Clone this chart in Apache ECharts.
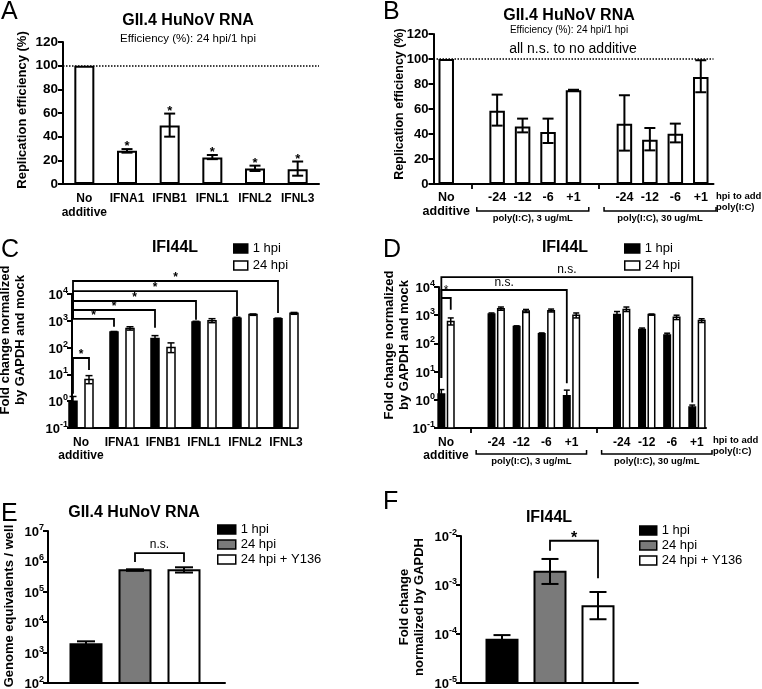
<!DOCTYPE html>
<html>
<head>
<meta charset="utf-8">
<script src="https://cdn.jsdelivr.net/npm/echarts@6/dist/echarts.min.js"></script>
<style>
    html, body { margin: 0; padding: 0; background: #fff; }
    #chart { width: 762px; height: 689px; }
</style>
</head>
<body>
<div id="chart"></div>
<script>
// ---------- data ----------
// A: replication efficiency, IFN treatments
let aCategories = ['No\nadditive', 'IFNA1', 'IFNB1', 'IFNL1', 'IFNL2', 'IFNL3'];
let aValues = [100, 28, 49.5, 22.5, 13, 12.5];
let aErrLow = [null, 26.5, 40, 21, 11, 7];
let aErrHigh = [null, 29.5, 59.5, 24.5, 15.5, 19];
let aStars = [0, 1, 1, 1, 1, 1];

// B: replication efficiency, poly(I:C)
let bCategories = ['No\nadditive', '', '-24', '-12', '-6', '+1', '', '-24', '-12', '-6', '+1'];
let bValues = [100, null, 58.6, 46.1, 41.6, 75, null, 48.3, 35.5, 40.3, 85.6];
let bErrLow = [null, null, 46.7, 41.3, 32.8, 74.6, null, 26.7, 26.9, 33.3, 73.4];
let bErrHigh = [null, null, 71.5, 52.3, 52.3, 75.4, null, 71, 44.8, 48.3, 99];
let bGroups = [[2, 5], [7, 10]];
let bGroupNames = ['poly(I:C), 3 ug/mL', 'poly(I:C), 30 ug/mL'];

// C: IFI44L, IFN treatments
let cCategories = ['No\nadditive', 'IFNA1', 'IFNB1', 'IFNL1', 'IFNL2', 'IFNL3'];
let c1Values = [1.0, 380, 220, 900, 1250, 1200];
let c1ErrLow = [0.7, 360, 170, 850, 1150, 1150];
let c1ErrHigh = [1.5, 400, 280, 960, 1350, 1260];
let c24Values = [6.5, 520, 100, 1000, 1700, 1900];
let c24ErrLow = [4.5, 450, 65, 850, 1600, 1750];
let c24ErrHigh = [9, 600, 150, 1200, 1800, 2050];
// [cat1, side1, cat2, side2, level, leg1 end, leg2 end]
let cBrackets = [
    [0, -1, 5, -1, 30500, 1180, 1950],
    [0, -1, 4, -1, 12900, 1180, 1510],
    [0, -1, 3, -1, 5480, 1180, 1090],
    [0, -1, 2, -1, 2530, 1180, 550],
    [0, -1, 1, -1, 1180, 1180, 600],
    [0, -1, 0, 1, 41, 1.9, 14.6],
];
let cBracketText = ['*', '*', '*', '*', '*', '*'];

// D: IFI44L, poly(I:C)
let dCategories = ['No\nadditive', '', '-24', '-12', '-6', '+1', '', '-24', '-12', '-6', '+1'];
let d1Values = [1.6, null, 1100, 400, 220, 1.4, null, 1050, 310, 200, 0.55];
let d1ErrLow = [1.1, null, 1000, 380, 210, 0.9, null, 800, 280, 180, 0.45];
let d1ErrHigh = [2.3, null, 1200, 420, 235, 2.2, null, 1350, 350, 230, 0.65];
let d24Values = [600, null, 1700, 1400, 1450, 1000, null, 1600, 1050, 850, 650];
let d24ErrLow = [450, null, 1500, 1250, 1300, 800, null, 1350, 1000, 700, 550];
let d24ErrHigh = [800, null, 1950, 1600, 1650, 1200, null, 1950, 1100, 1000, 750];
let dBrackets = [
    [0, -1, 10, -1, 22500, 5.9, 0.8],
    [0, -1, 5, -1, 7830, 5.9, 3.9],
    [0, -1, 0, 1, 4080, 4080, 1550],
];
let dBracketText = ['n.s.', 'n.s.', '*'];
let dGroups = [[2, 5], [7, 10]];
let dGroupNames = ['poly(I:C), 3 ug/mL', 'poly(I:C), 30 ug/mL'];

// E: genome equivalents
let eCategories = ['1 hpi', '24 hpi', '24 hpi + Y136'];
let eValues = [1870, 5.1e5, 5.1e5];
let eErrLow = [1500, 4.9e5, 4.3e5];
let eErrHigh = [2350, 5.5e5, 6.4e5];
let eBrackets = [[1, 0, 2, 0, 1.88e6, 9.5e5, 9.5e5]];
let eBracketText = ['n.s.'];

// F: IFI44L fold change
let fCategories = ['1 hpi', '24 hpi', '24 hpi + Y136'];
let fValues = [7.6e-5, 1.86e-3, 3.7e-4];
let fErrLow = [6.2e-5, 1.05e-3, 2.0e-4];
let fErrHigh = [9.5e-5, 3.4e-3, 7.2e-4];
let fBrackets = [[1, 0, 2, 0, 8e-3, 5e-3, 1.38e-3]];
let fBracketText = ['*'];

// ---------- helpers ----------
const FONT = 'Liberation Sans';
const BLACK = '#000';
const GRAY = '#7a7a7a';

let legendNames = {
    c1: '1 hpi', c24: '24 hpi', d1: '1 hpi', d24: '24 hpi',
    e1: '1 hpi', e24: '24 hpi', eY: '24 hpi + Y136',
    f1: '1 hpi', f24: '24 hpi', fY: '24 hpi + Y136',
};

function line(w) {
    return { show: true, lineStyle: { color: BLACK, width: w } };
}

function logLabel(v) {
    let e = Math.round(Math.log10(v));
    return '{b|10}{s|' + e + '}';
}

let supRich = {
    b: { fontFamily: FONT, fontWeight: 'bold', fontSize: 13, color: BLACK, lineHeight: 16, verticalAlign: 'bottom' },
    s: { fontFamily: FONT, fontWeight: 'bold', fontSize: 9, color: BLACK, lineHeight: 10, verticalAlign: 'top' },
};

function valueLabel(fs) {
    return { fontFamily: FONT, fontWeight: 'bold', fontSize: fs, color: BLACK, margin: 5 };
}

// one entry per value, with holes for nulls
function pairs(low, high) {
    let out = [];
    low.forEach((lo, i) => { if (lo != null) out.push([i, lo, high[i]]); });
    return out;
}

function errorSeries(xi, yi, low, high, dx, cap, lw) {
    return {
        type: 'custom', xAxisIndex: xi, yAxisIndex: yi, silent: true, z: 5,
        encode: { x: 0, y: [1, 2] },
        data: pairs(low, high),
        renderItem: (params, api) => {
            let lo = api.coord([api.value(0), api.value(1)]);
            let hi = api.coord([api.value(0), api.value(2)]);
            let x = lo[0] + dx;
            let h = cap / 2;
            let style = { stroke: BLACK, lineWidth: lw, fill: null };
            return {
                type: 'group', children: [
                    { type: 'line', shape: { x1: x, y1: lo[1], x2: x, y2: hi[1] }, style },
                    { type: 'line', shape: { x1: x - h, y1: hi[1], x2: x + h, y2: hi[1] }, style },
                    { type: 'line', shape: { x1: x - h, y1: lo[1], x2: x + h, y2: lo[1] }, style },
                ]
            };
        },
    };
}

// bars on a log axis, drawn up from the bottom of the axis
function logBars(name, xi, yi, values, dx, width, color, bw) {
    let data = [];
    values.forEach((v, i) => { if (v != null) data.push([i, v]); });
    return {
        name, type: 'custom', xAxisIndex: xi, yAxisIndex: yi, z: 3,
        encode: { x: 0, y: 1 }, data,
        itemStyle: { color, borderColor: BLACK, borderWidth: bw },
        renderItem: (params, api) => {
            let top = api.coord([api.value(0), api.value(1)]);
            let base = params.coordSys.y + params.coordSys.height;
            return {
                type: 'rect',
                shape: { x: top[0] + dx - width / 2, y: top[1], width, height: base - top[1] },
                style: { fill: color, stroke: BLACK, lineWidth: bw },
            };
        },
    };
}

function bracketSeries(xi, yi, specs, texts, dx, fs, fw, textDy) {
    return {
        type: 'custom', xAxisIndex: xi, yAxisIndex: yi, silent: true, z: 6,
        encode: { x: 0, y: 4 },
        data: specs,
        renderItem: (params, api) => {
            let i = params.dataIndex;
            let p1 = api.coord([api.value(0), api.value(4)]);
            let p2 = api.coord([api.value(2), api.value(4)]);
            let x1 = p1[0] + api.value(1) * dx;
            let x2 = p2[0] + api.value(3) * dx;
            let yl = p1[1];
            let y1 = api.coord([api.value(0), api.value(5)])[1];
            let y2 = api.coord([api.value(0), api.value(6)])[1];
            return {
                type: 'group', children: [
                    { type: 'polyline', shape: { points: [[x1, y1], [x1, yl], [x2, yl], [x2, y2]] },
                      style: { stroke: BLACK, lineWidth: 1.8, fill: null } },
                    { type: 'text', x: (x1 + x2) / 2, y: yl + textDy,
                      style: { text: texts[i], fontFamily: FONT, fontSize: fs, fontWeight: fw, fill: BLACK,
                               align: 'center', verticalAlign: 'bottom' } },
                ]
            };
        },
    };
}

function groupSeries(xi, yi, groups, names, braceDy) {
    return {
        type: 'custom', xAxisIndex: xi, yAxisIndex: yi, silent: true, z: 6,
        encode: { x: 0, y: 1 },
        data: groups,
        renderItem: (params, api) => {
            let slot = api.size([1, 0])[0];
            let y0 = params.coordSys.y + params.coordSys.height + braceDy;
            let x1 = api.coord([api.value(0), 1])[0] - slot * 0.8;
            let x2 = api.coord([api.value(1), 1])[0] + slot * 0.6;
            return {
                type: 'group', children: [
                    { type: 'polyline', shape: { points: [[x1, y0 - 4], [x1, y0], [x2, y0], [x2, y0 - 4]] },
                      style: { stroke: BLACK, lineWidth: 1.5, fill: null } },
                    { type: 'text', x: (x1 + x2) / 2, y: y0 + 2,
                      style: { text: names[params.dataIndex], fontFamily: FONT, fontSize: 9.5, fontWeight: 'bold',
                               fill: BLACK, align: 'center', verticalAlign: 'top' } },
                ]
            };
        },
    };
}

function starSeries(xi, yi, flags, high) {
    let data = [];
    flags.forEach((f, i) => { if (f) data.push([i, high[i]]); });
    return {
        type: 'custom', xAxisIndex: xi, yAxisIndex: yi, silent: true, z: 6,
        data,
        renderItem: (params, api) => {
            let p = api.coord([api.value(0), api.value(1)]);
            return { type: 'text', x: p[0], y: p[1] + 4,
                     style: { text: '*', fontFamily: FONT, fontSize: 13, fontWeight: 'bold', fill: BLACK,
                              align: 'center', verticalAlign: 'bottom' } };
        },
    };
}

// one bar per category, each series owns one slot
function onlyAt(values, idx) {
    return values.map((v, i) => (i === idx ? v : null));
}

function gapTicks(cats) {
    return { show: true, alignWithLabel: true, length: 5, lineStyle: { color: BLACK, width: 1.8 },
             interval: (i) => cats[i] === '' };
}

let hidden = { show: false };

// ---------- grids ----------
let grids = [
    { left: 63, top: 42, width: 256, height: 142 },          // 0 A
    { left: 433.5, top: 34, width: 280, height: 150 },       // 1 B
    { left: 72, top: 294, width: 225, height: 134 },         // 2 C frame
    { left: 60.5, top: 294, width: 246, height: 134 },       // 3 C plot
    { left: 439, top: 287, width: 267, height: 141 },        // 4 D frame
    { left: 433.5, top: 287, width: 276, height: 141 },      // 5 D plot
    { left: 48, top: 531, width: 177, height: 152 },         // 6 E frame
    { left: 61.5, top: 531, width: 147, height: 152 },       // 7 E plot
    { left: 461, top: 536, width: 177, height: 147 },        // 8 F frame
    { left: 478, top: 536, width: 144, height: 147 },        // 9 F plot
].map(g => Object.assign({ outerBoundsMode: 'none', containLabel: false }, g));

function frameX(gi) {
    return { type: 'value', gridIndex: gi, min: 0, max: 1, axisLine: line(2), axisTick: hidden,
             axisLabel: hidden, splitLine: hidden };
}

function plotX(gi, cats, showLabels, ticks) {
    return { type: 'category', gridIndex: gi, data: cats, axisLine: hidden,
             axisTick: ticks || hidden,
             axisLabel: showLabels ? Object.assign(valueLabel(12), { interval: 0, margin: 8, lineHeight: 13 }) : hidden,
             splitLine: hidden };
}

function logY(gi, min, max, visible) {
    return { type: 'log', logBase: 10, gridIndex: gi, min, max,
             axisLine: visible ? line(2) : hidden,
             axisTick: visible ? { show: true, length: 5, lineStyle: { color: BLACK, width: 2 } } : hidden,
             axisLabel: visible ? { formatter: logLabel, rich: supRich, margin: 4 } : hidden,
             splitLine: hidden, minorTick: hidden };
}

let xAxes = [
    // A
    { type: 'category', gridIndex: 0, data: aCategories, axisLine: line(2), axisTick: hidden,
      axisLabel: Object.assign(valueLabel(12), { interval: 0, margin: 8, lineHeight: 13.5 }) },
    // B
    { type: 'category', gridIndex: 1, data: bCategories, axisLine: line(2), axisTick: gapTicks(bCategories),
      axisLabel: Object.assign(valueLabel(12.5), { interval: 0, margin: 7, lineHeight: 13.5 }) },
    frameX(2),
    plotX(3, cCategories, true),
    frameX(4),
    plotX(5, dCategories, true, gapTicks(dCategories)),
    frameX(6),
    plotX(7, eCategories, false),
    frameX(8),
    plotX(9, fCategories, false),
];

let yAxes = [
    { type: 'value', gridIndex: 0, min: 0, max: 120, interval: 20, axisLine: line(2),
      axisTick: { show: true, length: 5, lineStyle: { color: BLACK, width: 2 } },
      axisLabel: valueLabel(13.5), splitLine: hidden },
    { type: 'value', gridIndex: 1, min: 0, max: 120, interval: 20, axisLine: line(2),
      axisTick: { show: true, length: 5, lineStyle: { color: BLACK, width: 2 } },
      axisLabel: valueLabel(13), splitLine: hidden },
    logY(2, 0.1, 10000, true),
    logY(3, 0.1, 10000, false),
    logY(4, 0.1, 10000, true),
    logY(5, 0.1, 10000, false),
    logY(6, 100, 1e7, true),
    logY(7, 100, 1e7, false),
    logY(8, 1e-5, 1e-2, true),
    logY(9, 1e-5, 1e-2, false),
];

let dotted100 = {
    silent: true, symbol: 'none', label: { show: false },
    lineStyle: { color: BLACK, type: 'dotted', width: 1.5 },
    data: [{ yAxis: 100 }],
};

function whiteBar(name, xi, yi, data, width, bw) {
    return { name, type: 'bar', xAxisIndex: xi, yAxisIndex: yi, data, barWidth: width,
             itemStyle: { color: '#fff', borderColor: BLACK, borderWidth: bw }, z: 3 };
}

let series = [
    // A
    Object.assign(whiteBar('a', 0, 0, aValues, 20, 2), { markLine: dotted100 }),
    errorSeries(0, 0, aErrLow, aErrHigh, 0, 11, 2),
    starSeries(0, 0, aStars, aErrHigh),
    // B
    Object.assign(whiteBar('b', 1, 1, bValues, 15.5, 2), { markLine: dotted100 }),
    errorSeries(1, 1, bErrLow, bErrHigh, 0, 11, 2),
    groupSeries(1, 1, bGroups, bGroupNames, 27),
    // C
    logBars('c1', 3, 3, c1Values, -8, 8, BLACK, 1.5),
    logBars('c24', 3, 3, c24Values, 8, 8, '#fff', 1.5),
    errorSeries(3, 3, c1ErrLow, c1ErrHigh, -8, 7, 1.5),
    errorSeries(3, 3, c24ErrLow, c24ErrHigh, 8, 7, 1.5),
    bracketSeries(3, 3, cBrackets, cBracketText, 8, 12, 'bold', 3),
    // D
    logBars('d1', 5, 5, d1Values, -4.7, 6.5, BLACK, 1.5),
    logBars('d24', 5, 5, d24Values, 4.7, 6.5, '#fff', 1.5),
    errorSeries(5, 5, d1ErrLow, d1ErrHigh, -4.7, 6, 1.5),
    errorSeries(5, 5, d24ErrLow, d24ErrHigh, 4.7, 6, 1.5),
    bracketSeries(5, 5, dBrackets, dBracketText, 4.7, 12, 'normal', -1),
    groupSeries(5, 5, dGroups, dGroupNames, 26),
    // E
    logBars('e1', 7, 7, onlyAt(eValues, 0), 0, 31, BLACK, 2),
    logBars('e24', 7, 7, onlyAt(eValues, 1), 0, 31, GRAY, 2),
    logBars('eY', 7, 7, onlyAt(eValues, 2), 0, 31, '#fff', 2),
    errorSeries(7, 7, eErrLow, eErrHigh, 0, 18, 2),
    bracketSeries(7, 7, eBrackets, eBracketText, 0, 12, 'normal', -2),
    // F
    logBars('f1', 9, 9, onlyAt(fValues, 0), 0, 31, BLACK, 2),
    logBars('f24', 9, 9, onlyAt(fValues, 1), 0, 31, GRAY, 2),
    logBars('fY', 9, 9, onlyAt(fValues, 2), 0, 31, '#fff', 2),
    errorSeries(9, 9, fErrLow, fErrHigh, 0, 17, 2),
    bracketSeries(9, 9, fBrackets, fBracketText, 0, 16, 'bold', 6),
];

// ---------- text ----------
function title(text, left, top, fs, fw, align) {
    return { text, left, top, textAlign: align || 'left', padding: 0,
             textStyle: { fontFamily: FONT, fontSize: fs, fontWeight: fw || 'normal', color: BLACK } };
}

let titles = [
    title('A', 1, 0, 25), title('B', 383, 0, 25), title('C', 1, 238, 25),
    title('D', 383, 238, 25), title('E', 1, 502, 25), title('F', 383, 490, 25),
    title('GII.4 HuNoV RNA', 188, 13, 16, 'bold', 'center'),
    title('Efficiency (%): 24 hpi/1 hpi', 188, 33, 11.5, 'normal', 'center'),
    title('GII.4 HuNoV RNA', 569, 8, 16, 'bold', 'center'),
    title('Efficiency (%): 24 hpi/1 hpi', 569, 25, 10, 'normal', 'center'),
    title('all n.s. to no additive', 573, 42, 14, 'normal', 'center'),
    title('IFI44L', 175, 240, 16, 'bold', 'center'),
    title('IFI44L', 565, 240, 16, 'bold', 'center'),
    title('GII.4 HuNoV RNA', 134, 505, 16, 'bold', 'center'),
    title('IFI44L', 549, 510, 16, 'bold', 'center'),
];

function yName(text, x, y, fs) {
    return { type: 'text', x, y, rotation: Math.PI / 2, silent: true,
             style: { text, fontFamily: FONT, fontSize: fs, fontWeight: 'bold', fill: BLACK,
                      align: 'center', verticalAlign: 'middle', lineHeight: fs + 2 } };
}

function smallNote(text, x, y) {
    return { type: 'text', x, y, silent: true,
             style: { text, fontFamily: FONT, fontSize: 9.5, fontWeight: 'bold', fill: BLACK,
                      align: 'left', verticalAlign: 'top', lineHeight: 11 } };
}

let graphics = [
    yName('Replication efficiency (%)', 22, 110, 13),
    yName('Replication efficiency (%)', 400, 104, 12.5),
    yName('Fold change normalized\nby GAPDH and mock', 13, 340, 13),
    yName('Fold change normalized\nby GAPDH and mock', 397, 345, 13),
    yName('Genome equivalents / well', 9, 606, 13),
    yName('Fold change\nnormalized by GAPDH', 412, 607, 13),
    smallNote('hpi to add\npoly(I:C)', 716, 191),
    smallNote('hpi to add\npoly(I:C)', 713, 435),
];

function legend(names, left, top, iw, ih, gap) {
    return { data: names, orient: 'vertical', left, top, itemWidth: iw, itemHeight: ih, itemGap: gap,
             icon: 'rect', selectedMode: false, padding: 0,
             formatter: (n) => legendNames[n],
             itemStyle: { borderColor: BLACK, borderWidth: 1.5 },
             textStyle: { fontFamily: FONT, fontSize: 13, color: BLACK } };
}

let legends = [
    legend(['c1', 'c24'], 233, 242, 14, 9, 4),
    legend(['d1', 'd24'], 624, 242, 15, 9, 4),
    legend(['e1', 'e24', 'eY'], 217, 523, 18, 9, 2),
    legend(['f1', 'f24', 'fY'], 639, 524, 17, 9, 2),
];

let chart = echarts.init(document.getElementById('chart'), null, { renderer: 'canvas' });
chart.setOption({
    animation: false,
    backgroundColor: '#fff',
    title: titles,
    legend: legends,
    grid: grids,
    xAxis: xAxes,
    yAxis: yAxes,
    series,
    graphic: graphics,
});
</script>
</body>
</html>
